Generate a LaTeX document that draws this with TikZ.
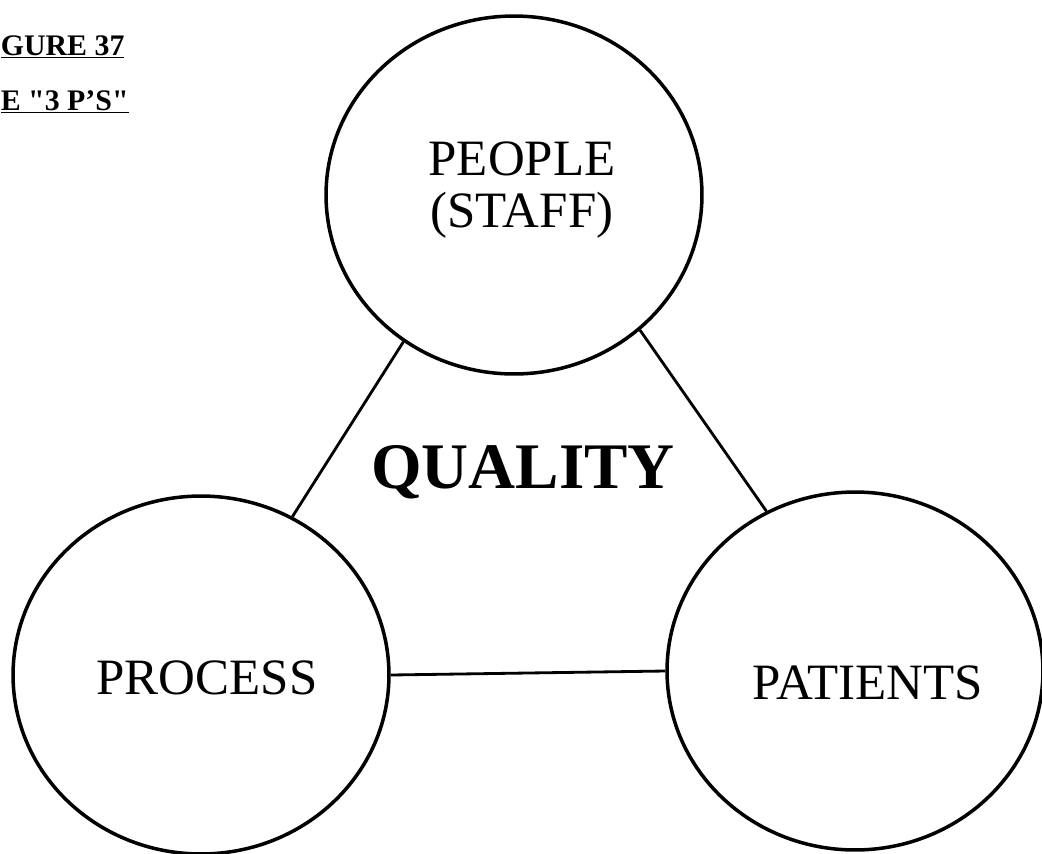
\documentclass[tikz,border=0pt]{standalone}
\usepackage{fontspec}
\setmainfont{Liberation Serif}
\newfontfamily\titlefont{Liberation Serif}[Ligatures=TeXOff]
\usetikzlibrary{shapes.geometric}
\tikzset{
  pcircle/.style={draw=black, ellipse, line width=2pt, minimum width=7.52cm, minimum height=7.16cm, inner sep=0pt},
  link/.style={draw=black, line width=1.6pt},
  ptext/.style={inner sep=0pt, align=center, font=\fontsize{29}{30}\selectfont},
  qtext/.style={inner sep=0pt, font=\fontsize{37}{40}\selectfont\bfseries},
  ttext/.style={inner sep=0pt, anchor=base west, font=\titlefont\fontsize{17}{20}\selectfont\bfseries}
}
\begin{document}
\begin{tikzpicture}[x=0.02cm,y=-0.02cm]
\useasboundingbox[fill=white] (0,0) rectangle (1042,853);
\clip (0,0) rectangle (1042,853);
\node[pcircle] (people) at (514,195) {};
\node[pcircle] (process) at (201,675) {};
\node[pcircle] (patients) at (855,671) {};
\node[ptext] (peopletext) at (522,190) {PEOPLE\\(STAFF)};
\node[ptext] (processtext) at (207,678) {PROCESS};
\node[ptext] (patientstext) at (868,683) {PATIENTS};
\node[qtext] (quality) at (523,472) {QUALITY};
\node[ttext] (title1) at (0.5,55) {\underline{GURE 37}};
\node[ttext] (title2) at (0.5,110) {\underline{E "3 P’S"}};
\draw[link] (process.60.4) -- (people.233.9);
\draw[link] (patients.119) -- (people.313.5);
\draw[link] (process.0) -- (patients.180.6);
\end{tikzpicture}
\end{document}
